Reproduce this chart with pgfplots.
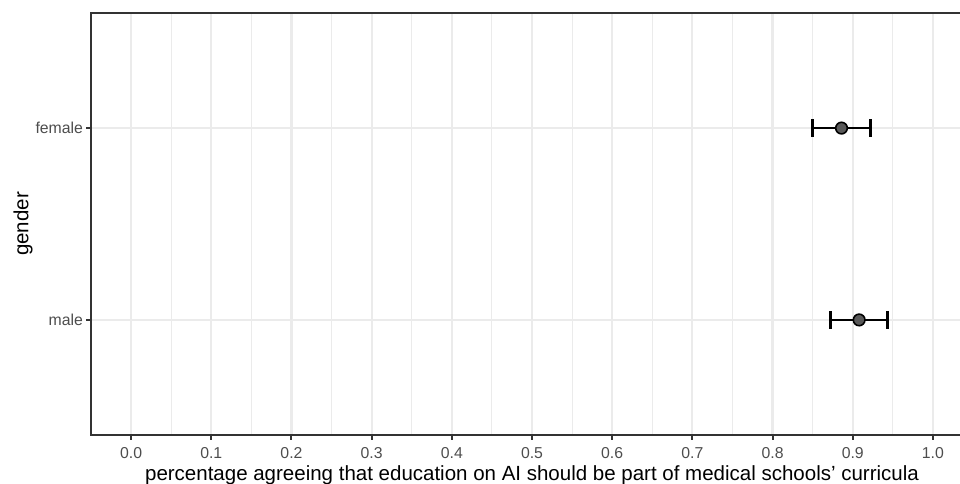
\documentclass[border=0pt]{standalone}
\usepackage{pgfplots}
\pgfplotsset{compat=1.18}
\usepackage{fontspec}
\setmainfont{Liberation Sans}
\definecolor{gridc}{HTML}{EBEBEB}
\definecolor{grey20}{HTML}{333333}
\definecolor{grey30}{HTML}{4D4D4D}
\definecolor{ptfill}{HTML}{595959}
\pgfplotstableread{
x y ep em
0.886 2 0.036 0.036
0.908 1 0.035 0.036
}\datatab
\begin{document}
\begin{tikzpicture}[x=1pt,y=1pt]
\useasboundingbox (0,0) rectangle (960,484);
\clip (0,0) rectangle (960,484);
\begin{axis}[
  at={(91pt,49pt)}, anchor=south west,
  scale only axis, width=882pt, height=422pt,
  xmin=-0.05, xmax=1.05, ymin=0.4, ymax=2.6,
  xtick={0,0.1,0.2,0.3,0.4,0.5,0.6,0.7,0.8,0.9,1.0},
  minor xtick={0.05,0.15,0.25,0.35,0.45,0.55,0.65,0.75,0.85,0.95,1.05},
  ytick={1,2}, yticklabels={male,female},
  xticklabel style={/pgf/number format/fixed, /pgf/number format/fixed zerofill, /pgf/number format/precision=1, anchor=north, inner sep=0pt, yshift=-8pt},
  /pgf/number format/assume math mode=true,
  tick align=outside, xtick pos=bottom, ytick pos=left,
  major tick length=4.5pt, minor tick length=0pt,
  every tick/.style={grey20, line width=2pt},
  grid=both,
  major grid style={gridc, line width=2.2pt},
  minor grid style={gridc, line width=1.1pt},
  axis line style={grey20, line width=2pt},
  ticklabel style={font=\fontsize{15.8}{17}\selectfont, text=grey30},
  xlabel={percentage agreeing that education on AI should be part of medical schools' curricula},
  ylabel={gender},
  label style={font=\fontsize{20.5}{22}\selectfont, text=black},
  xlabel style={at={(axis description cs:0.5,0)}, anchor=base, yshift=-45pt},
  ylabel style={at={(axis description cs:0,0.5)}, anchor=center, yshift=68pt},
]
\addplot[only marks, mark=none,
  error bars/.cd, x dir=both, x explicit,
  error mark=|,
  error bar style={black, line width=2.6pt},
  error mark options={black, line width=2.6pt, mark size=9pt}]
  table[x=x, y=y, x error plus=ep, x error minus=em] {\datatab};
\addplot[only marks, mark=*, mark size=5.8pt,
  mark options={fill=ptfill, draw=black, line width=1.6pt}]
  table[x=x, y=y] {\datatab};
\end{axis}
\end{tikzpicture}
\end{document}
